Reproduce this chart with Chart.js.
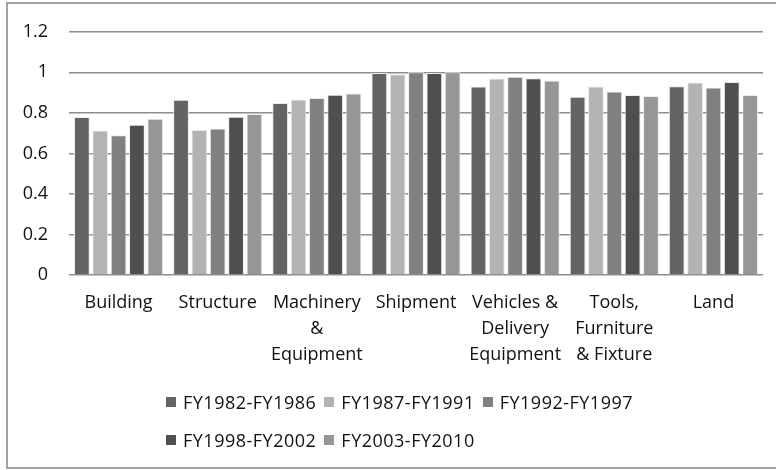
<!DOCTYPE html>
<html>
<head>
<meta charset="utf-8">
<script src="https://cdn.jsdelivr.net/npm/chart.js@4/dist/chart.umd.min.js"></script>
<style>
	body { margin: 0; background: #fff; }
	#wrap { position: relative; width: 776px; height: 470px; overflow: hidden; }
	#frame { position: absolute; left: 6px; top: 2px; width: 790px; height: 467px; border: 2px solid #a3a3a3; box-sizing: border-box; pointer-events: none; }
	#legend { position: absolute; left: 166px; top: 389px; font-family: 'Open Sans', sans-serif; font-size: 18px; letter-spacing: 0.5px; color: #111; }
	.row { display: flex; align-items: center; height: 26px; margin-bottom: 12px; white-space: nowrap; }
	.item { display: flex; align-items: center; margin-right: 8px; }
	.box { width: 10px; height: 10px; margin-right: 7px; }
</style>
</head>
<body>
<div id="wrap">
	<canvas id="myChart" width="776" height="470"></canvas>
	<div id="frame"></div>
	<div id="legend"></div>
</div>
<script>
let categories = ['Building', 'Structure', ['Machinery', '&', 'Equipment'], 'Shipment', ['Vehicles &', 'Delivery', 'Equipment'], ['Tools,', 'Furniture', '& Fixture'], 'Land']
let seriesNames = ['FY1982-FY1986', 'FY1987-FY1991', 'FY1992-FY1997', 'FY1998-FY2002', 'FY2003-FY2010']
let fy8286 = [0.78, 0.865, 0.849, 0.997, 0.93, 0.879, 0.931]
let fy8791 = [0.713, 0.715, 0.866, 0.99, 0.97, 0.93, 0.95]
let fy9297 = [0.689, 0.723, 0.873, 1.0, 0.978, 0.905, 0.925]
let fy9802 = [0.741, 0.781, 0.89, 0.997, 0.971, 0.888, 0.952]
let fy0310 = [0.771, 0.794, 0.895, 1.0, 0.96, 0.883, 0.888]
let colors = ['#636363', '#b3b3b3', '#808080', '#4f4f4f', '#969696']

let seriesValues = [fy8286, fy8791, fy9297, fy9802, fy0310]

let dataa = {
	labels: categories,
	datasets: seriesValues.map((vals, i) => ({
		label: seriesNames[i],
		data: vals,
		backgroundColor: colors[i],
		borderColor: '#ececec',
		borderWidth: 1,
		categoryPercentage: 0.925,
		barPercentage: 0.86,
	})),
}

var ctx = document.getElementById('myChart').getContext('2d')
var myChart = new Chart(ctx, {
	type: 'bar',
	data: dataa,
	options: {
		responsive: false,
		animation: false,
		layout: { padding: { left: 0, right: 13, top: 27, bottom: 95 } },
		plugins: {
			legend: { display: false },
			tooltip: { enabled: false },
		},
		scales: {
			x: {
				grid: { display: false, drawTicks: false },
				border: { display: false },
				ticks: {
					color: '#111',
					padding: 15,
					maxRotation: 0,
					autoSkip: false,
					font: { family: 'Open Sans', size: 18, lineHeight: 1.45 },
				},
				afterFit: (scale) => { scale.height = 100 },
			},
			y: {
				min: 0,
				max: 1.2,
				grid: { color: '#8e8e8e', lineWidth: 1.5, drawTicks: false },
				border: { display: false },
				ticks: {
					stepSize: 0.2,
					color: '#111',
					padding: 21,
					font: { family: 'Open Sans', size: 18 },
					callback: (value) => String(Math.round(value * 10) / 10),
				},
				afterFit: (scale) => { scale.width = 69 },
			},
		},
	},
})

// legend in two rows like the original
let legend = document.getElementById('legend')
let rows = [[0, 1, 2], [3, 4]]
rows.forEach((r) => {
	let row = document.createElement('div')
	row.className = 'row'
	r.forEach((i) => {
		let ds = myChart.data.datasets[i]
		let item = document.createElement('div')
		item.className = 'item'
		item.innerHTML = '<span class="box" style="background:' + ds.backgroundColor + '"></span>' + ds.label
		row.appendChild(item)
	})
	legend.appendChild(row)
})
</script>
</body>
</html>
